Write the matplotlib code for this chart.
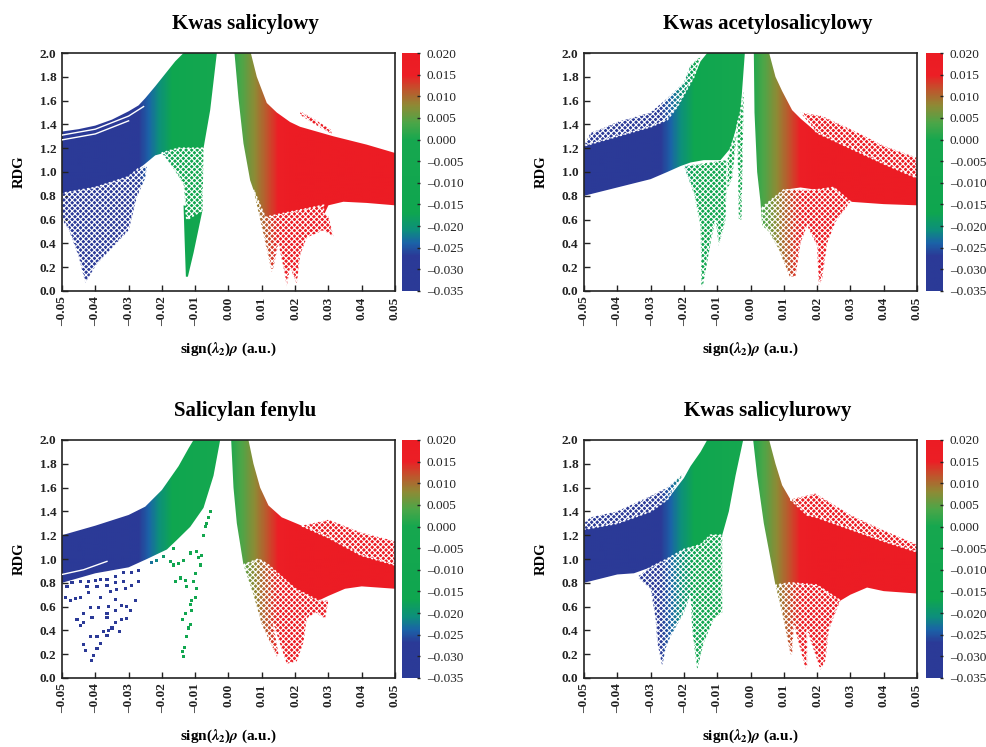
import matplotlib
matplotlib.use('Agg')
import matplotlib.pyplot as plt
from matplotlib.colors import LinearSegmentedColormap, Normalize
from matplotlib.patches import Polygon
import numpy as np

plt.rcParams['font.family'] = ['Liberation Serif', 'DejaVu Serif']
plt.rcParams['font.weight'] = 'bold'
plt.rcParams['mathtext.fontset'] = 'stix'
plt.rcParams['axes.unicode_minus'] = False
plt.rcParams['hatch.linewidth'] = 0.8

x_ticks = [-0.05, -0.04, -0.03, -0.02, -0.01, 0.0, 0.01, 0.02, 0.03, 0.04, 0.05]
y_ticks = [0.0, 0.2, 0.4, 0.6, 0.8, 1.0, 1.2, 1.4, 1.6, 1.8, 2.0]
cbar_ticks = [-0.035, -0.03, -0.025, -0.02, -0.015, -0.01, -0.005, 0.0, 0.005, 0.01, 0.015, 0.02]
titles = ['Kwas salicylowy', 'Kwas acetylosalicylowy', 'Salicylan fenylu', 'Kwas salicylurowy']

cmap_vals = [-0.035, -0.027, -0.024, -0.021, -0.017, 0.0, 0.004, 0.008, 0.012, 0.015, 0.02]
cmap_cols = ['#2b3a97', '#2b3a97', '#1b63a8', '#0d8f7c', '#0fa650', '#17a84f', '#4da648',
             '#8f8a35', '#c4502c', '#ec1f26', '#ec1c24']

# ---- Kwas salicylowy
sal_left_x = [-0.05, -0.045, -0.04, -0.035, -0.03, -0.027, -0.025, -0.022, -0.02, -0.018, -0.016, -0.0135,
              -0.0035, -0.0055, -0.0075, -0.015, -0.018, -0.022, -0.025, -0.03, -0.04, -0.05]
sal_left_y = [1.34, 1.36, 1.39, 1.44, 1.51, 1.56, 1.62, 1.72, 1.79, 1.86, 1.93, 2.0,
              2.0, 1.52, 1.2, 1.2, 1.17, 1.14, 1.07, 0.96, 0.87, 0.82]
sal_spike_x = [-0.0135, -0.0132, -0.0128, -0.0122, -0.0105, -0.0078]
sal_spike_y = [0.72, 0.45, 0.12, 0.12, 0.32, 0.68]
sal_right_x = [0.0018, 0.003, 0.0045, 0.0065, 0.0075, 0.011, 0.0165, 0.0235, 0.028, 0.03, 0.0345, 0.0415, 0.05,
               0.05, 0.0415, 0.0315, 0.0215, 0.0185, 0.0145, 0.0115, 0.0085, 0.0067]
sal_right_y = [2.0, 1.62, 1.24, 0.93, 0.85, 0.62, 0.55, 0.52, 0.6, 0.72, 0.75, 0.74, 0.72,
               1.16, 1.23, 1.30, 1.38, 1.42, 1.5, 1.58, 1.8, 2.0]
sal_stripe_x = [0.0215, 0.026, 0.031, 0.031, 0.026, 0.0215]
sal_stripe_y = [1.51, 1.44, 1.35, 1.32, 1.40, 1.48]
sal_blue_x = [-0.05, -0.05, -0.048, -0.045, -0.043, -0.0395, -0.03, -0.0275, -0.025, -0.0245, -0.027, -0.03, -0.04]
sal_blue_y = [0.82, 0.6, 0.52, 0.29, 0.07, 0.23, 0.51, 0.79, 0.95, 1.05, 1.03, 0.96, 0.87]
sal_green_x = [-0.0075, -0.0078, -0.0125, -0.0135, -0.0175, -0.02, -0.015]
sal_green_y = [1.2, 0.68, 0.6, 0.9, 1.07, 1.16, 1.2]
sal_red_x = [0.0075, 0.0095, 0.013, 0.0135, 0.015, 0.0165, 0.0175, 0.0185, 0.0205, 0.0215, 0.0235, 0.0285, 0.0315,
             0.03, 0.0285, 0.0285, 0.011]
sal_red_y = [0.85, 0.6, 0.16, 0.2, 0.4, 0.2, 0.04, 0.2, 0.06, 0.3, 0.45, 0.51, 0.46, 0.63, 0.65, 0.72, 0.62]
sal_gap1_x = [-0.05, -0.04, -0.03, -0.0255]
sal_gap1_y = [1.31, 1.36, 1.47, 1.55]
sal_gap2_x = [-0.05, -0.04, -0.03]
sal_gap2_y = [1.27, 1.32, 1.43]

# ---- Kwas acetylosalicylowy
ace_left_x = [-0.05, -0.04, -0.03, -0.025, -0.022, -0.02, -0.017, -0.015, -0.013, -0.0017, -0.003, -0.006, -0.009,
              -0.014, -0.018, -0.021, -0.025, -0.03, -0.04, -0.05]
ace_left_y = [1.22, 1.30, 1.38, 1.44, 1.55, 1.65, 1.8, 1.93, 2.0, 2.0, 1.5, 1.2, 1.1, 1.1, 1.08, 1.05, 1.0, 0.94,
              0.87, 0.8]
ace_tip_x = [-0.0147, -0.0147, -0.0143, -0.012, -0.0135]
ace_tip_y = [0.25, 0.05, 0.05, 0.4, 0.6]
ace_right_x = [0.001, 0.0012, 0.002, 0.003, 0.0035, 0.0055, 0.01, 0.015, 0.02, 0.025, 0.03, 0.04, 0.05,
               0.05, 0.04, 0.03, 0.02, 0.015, 0.0125, 0.0095, 0.0075, 0.0056]
ace_right_y = [2.0, 1.5, 1.0, 0.75, 0.55, 0.72, 0.85, 0.87, 0.85, 0.87, 0.75, 0.73, 0.72,
               0.95, 1.07, 1.2, 1.33, 1.45, 1.52, 1.68, 1.8, 2.0]
ace_top_x = [-0.05, -0.048, -0.045, -0.04, -0.03, -0.025, -0.02, -0.018, -0.015, -0.017, -0.02, -0.022, -0.025, -0.03, -0.04]
ace_top_y = [1.22, 1.33, 1.36, 1.42, 1.5, 1.62, 1.75, 1.9, 1.97, 1.8, 1.65, 1.55, 1.44, 1.38, 1.30]
ace_spike_x = [-0.02, -0.017, -0.015, -0.0147, -0.0143, -0.0125, -0.0105, -0.0095, -0.0075, -0.007]
ace_spike_y = [1.05, 0.82, 0.55, 0.03, 0.05, 0.35, 0.6, 0.38, 0.6, 1.1]
ace_mid_x = [-0.007, -0.007, -0.0055, -0.004, -0.006]
ace_mid_y = [1.1, 0.85, 0.95, 1.35, 1.2]
ace_strand_x = [-0.004, -0.0035, -0.0027, -0.002, -0.003]
ace_strand_y = [1.4, 0.6, 0.6, 1.7, 1.5]
ace_upper_x = [0.015, 0.0215, 0.03, 0.04, 0.05, 0.05, 0.04, 0.03, 0.02]
ace_upper_y = [1.5, 1.47, 1.36, 1.22, 1.12, 0.95, 1.07, 1.2, 1.33]
ace_lower_x = [0.0035, 0.0035, 0.0055, 0.0085, 0.0118, 0.0135, 0.015, 0.017, 0.02, 0.0205, 0.0215, 0.023, 0.0255,
               0.03, 0.025, 0.02, 0.01]
ace_lower_y = [0.7, 0.55, 0.5, 0.35, 0.12, 0.12, 0.4, 0.55, 0.38, 0.05, 0.1, 0.4, 0.58, 0.75, 0.87, 0.85, 0.85]

# ---- Salicylan fenylu
fen_left_x = [-0.05, -0.045, -0.04, -0.03, -0.025, -0.02, -0.015, -0.012, -0.0105, -0.0025, -0.0045, -0.0075,
              -0.0115, -0.0155, -0.0185, -0.0245, -0.03, -0.04, -0.05]
fen_left_y = [1.2, 1.24, 1.28, 1.37, 1.44, 1.58, 1.78, 1.93, 2.0, 2.0, 1.7, 1.43, 1.27, 1.16, 1.08, 1.0, 0.93, 0.88, 0.8]
fen_right_x = [0.0008, 0.0015, 0.0025, 0.0045, 0.009, 0.012, 0.02, 0.023, 0.027, 0.03, 0.035, 0.04, 0.05,
               0.05, 0.04, 0.03, 0.022, 0.016, 0.012, 0.0095, 0.0075, 0.006]
fen_right_y = [2.0, 1.6, 1.3, 0.95, 1.0, 0.95, 0.75, 0.55, 0.65, 0.69, 0.75, 0.77, 0.75,
               0.95, 1.03, 1.18, 1.28, 1.35, 1.45, 1.6, 1.8, 2.0]
fen_upper_x = [0.022, 0.03, 0.04, 0.05, 0.05, 0.04, 0.03]
fen_upper_y = [1.28, 1.33, 1.22, 1.15, 0.95, 1.03, 1.18]
fen_lower_x = [0.0045, 0.0075, 0.01, 0.0145, 0.015, 0.0135, 0.0175, 0.0205, 0.0225, 0.0235, 0.026, 0.029, 0.03,
               0.027, 0.02, 0.012, 0.009]
fen_lower_y = [0.95, 0.7, 0.45, 0.18, 0.2, 0.45, 0.12, 0.14, 0.3, 0.5, 0.55, 0.5, 0.65, 0.65, 0.75, 0.95, 1.0]
fen_gap_x = [-0.05, -0.0435, -0.0365]
fen_gap_y = [0.87, 0.91, 0.98]
fen_dots_x = [-0.0485, -0.047, -0.0445, -0.042, -0.04, -0.0385, -0.0365, -0.034, -0.0315, -0.029, -0.027,
              -0.0425, -0.0395, -0.0365, -0.034, -0.0315, -0.029, -0.027, -0.049, -0.0475, -0.046, -0.0445,
              -0.042, -0.0385, -0.0355, -0.0335, -0.031, -0.028, -0.0455, -0.0435, -0.0435, -0.0445, -0.0415,
              -0.039, -0.036, -0.034, -0.032, -0.0305, -0.0295, -0.0365, -0.034, -0.0305, -0.032, -0.034,
              -0.0365, -0.041, -0.0375, -0.036, -0.035, -0.0327, -0.0365, -0.0415, -0.0395, -0.0435, -0.043,
              -0.0385, -0.0395, -0.0405, -0.0412,
              -0.0135, -0.0137, -0.0133, -0.0125, -0.012, -0.0115, -0.011, -0.0137, -0.013, -0.011, -0.01,
              -0.0115, -0.0095, -0.0105, -0.013, -0.0145, -0.016, -0.0125, -0.01, -0.0085, -0.009, -0.0095,
              -0.008, -0.0165, -0.0175, -0.015, -0.0135, -0.0115, -0.0075, -0.007, -0.006, -0.0055, -0.0065,
              -0.0195, -0.0165, -0.023, -0.0215]
fen_dots_y = [0.77, 0.8, 0.81, 0.81, 0.82, 0.83, 0.83, 0.85, 0.89, 0.89, 0.90,
              0.77, 0.77, 0.78, 0.80, 0.81, 0.78, 0.81, 0.68, 0.65, 0.67, 0.68,
              0.72, 0.68, 0.73, 0.74, 0.75, 0.65, 0.49, 0.54, 0.47, 0.44, 0.59,
              0.59, 0.60, 0.66, 0.61, 0.60, 0.57, 0.54, 0.57, 0.50, 0.49, 0.47,
              0.51, 0.51, 0.39, 0.40, 0.42, 0.39, 0.36, 0.35, 0.35, 0.28, 0.23,
              0.29, 0.25, 0.19, 0.15,
              0.18, 0.22, 0.26, 0.35, 0.42, 0.45, 0.57, 0.49, 0.54, 0.65, 0.68,
              0.62, 0.75, 0.81, 0.82, 0.84, 0.81, 0.77, 0.88, 0.95, 1.01, 1.06,
              1.03, 0.95, 0.98, 0.96, 0.99, 1.05, 1.20, 1.27, 1.35, 1.40, 1.30,
              1.02, 1.09, 0.97, 0.99]

# ---- Kwas salicylurowy
url_left_x = [-0.05, -0.04, -0.03, -0.025, -0.02, -0.018, -0.015, -0.013, -0.0022, -0.0045, -0.0065, -0.0085,
              -0.012, -0.015, -0.02, -0.025, -0.03, -0.035, -0.04, -0.05]
url_left_y = [1.25, 1.3, 1.4, 1.5, 1.68, 1.78, 1.9, 2.0, 2.0, 1.7, 1.4, 1.2, 1.2, 1.12, 1.08, 1.0, 0.93, 0.88, 0.87, 0.8]
url_right_x = [0.0008, 0.002, 0.004, 0.0075, 0.012, 0.02, 0.027, 0.03, 0.035, 0.04, 0.05,
               0.05, 0.04, 0.03, 0.02, 0.017, 0.012, 0.0095, 0.0075, 0.0056]
url_right_y = [2.0, 1.7, 1.3, 0.78, 0.72, 0.78, 0.65, 0.7, 0.76, 0.73, 0.71,
               1.06, 1.15, 1.25, 1.35, 1.37, 1.5, 1.62, 1.8, 2.0]
url_top_x = [-0.05, -0.05, -0.048, -0.04, -0.03, -0.025, -0.02, -0.025, -0.03, -0.04]
url_top_y = [1.25, 1.3, 1.35, 1.4, 1.53, 1.6, 1.72, 1.5, 1.4, 1.3]
url_wedge_x = [-0.034, -0.03, -0.0285, -0.028, -0.0265, -0.0255, -0.024, -0.02, -0.018, -0.0175, -0.016, -0.014,
               -0.011, -0.0085, -0.0085, -0.012, -0.015, -0.02, -0.025, -0.03]
url_wedge_y = [0.85, 0.75, 0.5, 0.3, 0.1, 0.25, 0.35, 0.55, 0.7, 0.4, 0.07, 0.3, 0.5, 0.55, 1.2, 1.2, 1.12, 1.08, 1.0, 0.93]
url_upper_x = [0.012, 0.0195, 0.03, 0.04, 0.05, 0.05, 0.04, 0.03, 0.02, 0.017]
url_upper_y = [1.5, 1.55, 1.37, 1.24, 1.12, 1.06, 1.15, 1.25, 1.35, 1.37]
url_lower_x = [0.0075, 0.0095, 0.012, 0.0125, 0.013, 0.0165, 0.017, 0.017, 0.021, 0.0225, 0.0235, 0.0255, 0.027, 0.02, 0.012]
url_lower_y = [0.78, 0.55, 0.2, 0.2, 0.45, 0.08, 0.1, 0.4, 0.07, 0.15, 0.4, 0.55, 0.65, 0.78, 0.8]

solid_parts = [
    [(sal_left_x, sal_left_y), (sal_spike_x, sal_spike_y), (sal_right_x, sal_right_y)],
    [(ace_left_x, ace_left_y), (ace_tip_x, ace_tip_y), (ace_right_x, ace_right_y)],
    [(fen_left_x, fen_left_y), (fen_right_x, fen_right_y)],
    [(url_left_x, url_left_y), (url_right_x, url_right_y)],
]
sparse_parts = [
    [(sal_blue_x, sal_blue_y), (sal_green_x, sal_green_y), (sal_red_x, sal_red_y), (sal_stripe_x, sal_stripe_y)],
    [(ace_top_x, ace_top_y), (ace_spike_x, ace_spike_y), (ace_mid_x, ace_mid_y), (ace_strand_x, ace_strand_y),
     (ace_upper_x, ace_upper_y), (ace_lower_x, ace_lower_y)],
    [(fen_upper_x, fen_upper_y), (fen_lower_x, fen_lower_y)],
    [(url_top_x, url_top_y), (url_wedge_x, url_wedge_y), (url_upper_x, url_upper_y), (url_lower_x, url_lower_y)],
]
gaps = [
    [(sal_gap1_x, sal_gap1_y), (sal_gap2_x, sal_gap2_y)],
    [],
    [(fen_gap_x, fen_gap_y)],
    [],
]
dots = [None, None, (fen_dots_x, fen_dots_y), None]

positions = [(62, 395, 53, 291, 402, 420), (584, 917, 53, 291, 926, 943),
             (62, 395, 440, 678, 402, 420), (584, 917, 440, 678, 926, 943)]

W, H = 987, 747
cmap = LinearSegmentedColormap.from_list(
    'rdg', [((v - cmap_vals[0]) / (cmap_vals[-1] - cmap_vals[0]), c) for v, c in zip(cmap_vals, cmap_cols)])
norm = Normalize(cbar_ticks[0], cbar_ticks[-1])


def minus(s):
    return s.replace('-', '\u2013')


fig = plt.figure(figsize=(W / 100, H / 100), dpi=100)
ramp = np.linspace(-0.05, 0.05, 500).reshape(1, -1)
bar = np.linspace(cbar_ticks[0], cbar_ticks[-1], 300).reshape(-1, 1)

for i in range(4):
    l, r, t, b, cl, cr = positions[i]
    ax = fig.add_axes([l / W, 1 - b / H, (r - l) / W, (b - t) / H])
    for px, py in solid_parts[i] + sparse_parts[i]:
        im = ax.imshow(ramp, extent=[-0.05, 0.05, 0, 2], aspect='auto', cmap=cmap, norm=norm, zorder=1)
        im.set_clip_path(Polygon(np.column_stack([px, py]), transform=ax.transData))
    for px, py in sparse_parts[i]:
        ax.add_patch(Polygon(np.column_stack([px, py]), facecolor='none', edgecolor='white',
                             hatch='xxxxxx', linewidth=0, zorder=2))
        # broken outline so the sparse parts have a rough edge
        ax.add_patch(Polygon(np.column_stack([px, py]), facecolor='none', edgecolor='white',
                             linewidth=1.2, linestyle=(0, (1.2, 1.5)), zorder=2))
    for px, py in gaps[i]:
        ax.plot(px, py, color='white', lw=1.0, zorder=3)
    if dots[i] is not None:
        ax.scatter(dots[i][0], dots[i][1], c=dots[i][0], cmap=cmap, norm=norm, s=5, marker='s',
                   linewidths=0, zorder=3)
    ax.set_xlim(-0.05, 0.05)
    ax.set_ylim(0, 2)
    ax.set_xticks(x_ticks)
    ax.set_xticklabels([minus('%.2f' % v) for v in x_ticks], rotation=90)
    ax.set_yticks(y_ticks)
    ax.set_yticklabels(['%.1f' % v for v in y_ticks])
    ax.tick_params(direction='in', length=4, width=1, labelsize=9.5, colors='#222222', pad=4)
    for s in ax.spines.values():
        s.set_linewidth(1.2)
        s.set_color('#222222')
    ax.set_title(titles[i], fontsize=15, fontweight='bold', pad=17, x=0.551)
    ax.set_xlabel(r'sign($\lambda_2$)$\rho$ (a.u.)', fontsize=11, fontweight='bold', labelpad=10)
    ax.set_ylabel('RDG', fontsize=10.5, fontweight='bold', labelpad=10)

    cax = fig.add_axes([cl / W, 1 - b / H, (cr - cl) / W, (b - t) / H])
    cax.imshow(bar, extent=[0, 1, cbar_ticks[0], cbar_ticks[-1]], origin='lower', aspect='auto', cmap=cmap, norm=norm)
    cax.set_xticks([])
    cax.yaxis.tick_right()
    cax.set_yticks(cbar_ticks)
    cax.set_yticklabels([minus('%.3f' % v) for v in cbar_ticks], fontweight='normal')
    cax.tick_params(axis='y', direction='in', length=2, width=1, labelsize=9.5, colors='#222222', pad=5)
    for s in cax.spines.values():
        s.set_visible(False)

fig.savefig('out.png', dpi=100)
